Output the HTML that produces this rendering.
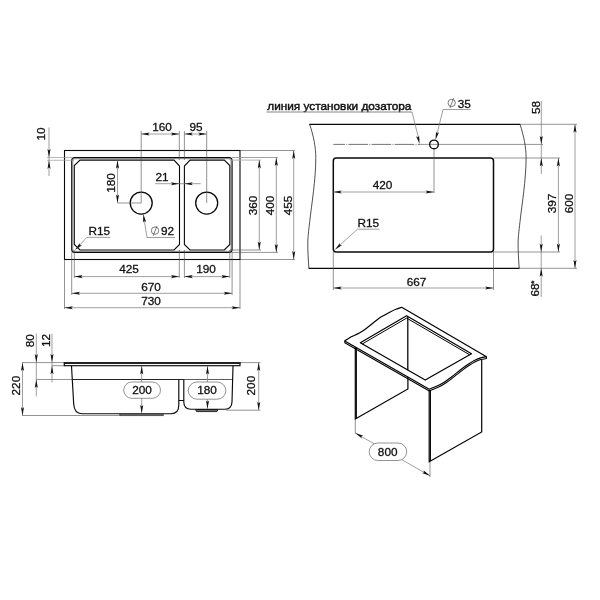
<!DOCTYPE html>
<html><head><meta charset="utf-8"><title>Sink drawing</title>
<style>
html,body{margin:0;padding:0;background:#fff;}
body{width:600px;height:600px;overflow:hidden;}
svg{display:block;}
text{font-family:"Liberation Sans",sans-serif;fill:#111;stroke:#111;stroke-width:0.3px;}
svg{will-change:transform;opacity:0.999;}
</style></head><body>
<svg width="600" height="600" viewBox="0 0 600 600">
<rect width="600" height="600" fill="#fff"/>
<g id="tl">
<rect x="64.5" y="150.5" width="175.5" height="109" fill="none" stroke="#0a0a0a" stroke-width="1.1"/>
<rect x="72.8" y="158.7" width="158.2" height="92.6" rx="2.5" fill="none" stroke="#aaa" stroke-width="1.1"/>
<rect x="71.7" y="157.6" width="160.4" height="94.8" rx="3" fill="none" stroke="#0a0a0a" stroke-width="1.1"/>
<path d="M80,160.1 H174 L179.5,166 V244.5 L174,250 H80 L74.3,244.5 V165.6 Z" fill="none" stroke="#0a0a0a" stroke-width="1.1" stroke-linejoin="miter"/>
<path d="M190,160.1 H224.3 L229.8,165.6 V244.5 L224.3,250 H190 L184.4,244.5 V166 Z" fill="none" stroke="#0a0a0a" stroke-width="1.1"/>
<circle cx="141.2" cy="203.1" r="11" fill="none" stroke="#0a0a0a" stroke-width="1.3"/>
<circle cx="206.7" cy="203.1" r="11" fill="none" stroke="#0a0a0a" stroke-width="1.3"/>
<line x1="141.2" y1="131" x2="141.2" y2="203" stroke="#4a4a4a" stroke-width="0.6" />
<line x1="179.3" y1="131" x2="179.3" y2="160" stroke="#4a4a4a" stroke-width="0.6" />
<line x1="184.4" y1="131" x2="184.4" y2="160" stroke="#4a4a4a" stroke-width="0.6" />
<line x1="206.7" y1="131" x2="206.7" y2="203" stroke="#4a4a4a" stroke-width="0.6" />
<line x1="141.2" y1="134" x2="179.3" y2="134" stroke="#777" stroke-width="0.7" />
<polygon points="141.20,134.00 149.60,132.45 147.92,134.00 149.60,135.55" fill="#111"/>
<polygon points="179.30,134.00 170.90,135.55 172.58,134.00 170.90,132.45" fill="#111"/>
<text x="162" y="131" font-size="11.8" text-anchor="middle" >160</text>
<line x1="184.4" y1="134" x2="206.7" y2="134" stroke="#777" stroke-width="0.7" />
<polygon points="184.40,134.00 192.80,132.45 191.12,134.00 192.80,135.55" fill="#111"/>
<polygon points="206.70,134.00 198.30,135.55 199.98,134.00 198.30,132.45" fill="#111"/>
<text x="196" y="131" font-size="11.8" text-anchor="middle" >95</text>
<line x1="155.3" y1="183.7" x2="200.7" y2="183.7" stroke="#777" stroke-width="0.7" />
<polygon points="179.30,183.70 170.90,185.25 172.58,183.70 170.90,182.15" fill="#111"/>
<polygon points="184.40,183.70 192.80,182.15 191.12,183.70 192.80,185.25" fill="#111"/>
<text x="162" y="180.7" font-size="11.8" text-anchor="middle" >21</text>
<line x1="117.5" y1="203" x2="141.2" y2="203" stroke="#4a4a4a" stroke-width="0.6" />
<line x1="117.5" y1="160.3" x2="117.5" y2="203" stroke="#777" stroke-width="0.7" />
<polygon points="117.50,160.30 119.05,168.70 117.50,167.02 115.95,168.70" fill="#111"/>
<polygon points="117.50,203.00 115.95,194.60 117.50,196.28 119.05,194.60" fill="#111"/>
<text x="115.2" y="183" font-size="11.8" text-anchor="middle" transform="rotate(-90 115.2 183)" >180</text>
<line x1="47" y1="157.5" x2="72" y2="157.5" stroke="#999" stroke-width="0.7" />
<line x1="47" y1="160.3" x2="74" y2="160.3" stroke="#999" stroke-width="0.7" />
<line x1="49" y1="127.5" x2="49" y2="176" stroke="#777" stroke-width="0.7" />
<polygon points="49.00,157.30 47.45,148.90 49.00,150.58 50.55,148.90" fill="#111"/>
<polygon points="49.00,160.50 50.55,168.90 49.00,167.22 47.45,168.90" fill="#111"/>
<text x="45.2" y="134" font-size="11.8" text-anchor="middle" transform="rotate(-90 45.2 134)" >10</text>
<text x="88.5" y="235" font-size="11.8" text-anchor="start" >R15</text>
<line x1="86.8" y1="237.4" x2="110.3" y2="237.4" stroke="#777" stroke-width="0.7" />
<line x1="86.8" y1="237.4" x2="76" y2="249" stroke="#777" stroke-width="0.7" />
<polygon points="75.00,250.00 79.84,242.96 79.75,245.25 82.04,245.16" fill="#111"/>
<text x="161" y="235" font-size="11.8" text-anchor="start" >92</text>
<circle cx="155" cy="230.6" r="3.7" fill="none" stroke="#444" stroke-width="0.7"/>
<line x1="153.2" y1="235.8" x2="157" y2="225.8" stroke="#444" stroke-width="0.7" />
<line x1="147" y1="237.5" x2="175" y2="237.5" stroke="#777" stroke-width="0.7" />
<line x1="147" y1="237.5" x2="144.2" y2="220" stroke="#777" stroke-width="0.7" />
<polygon points="143.30,214.00 146.14,222.05 144.35,220.64 143.08,222.54" fill="#111"/>
<line x1="240" y1="150.5" x2="295" y2="150.5" stroke="#4a4a4a" stroke-width="0.6" />
<line x1="232" y1="157.5" x2="278" y2="157.5" stroke="#999" stroke-width="0.9" />
<line x1="230" y1="160.1" x2="261" y2="160.1" stroke="#aaa" stroke-width="0.9" />
<line x1="230" y1="250" x2="261" y2="250" stroke="#4a4a4a" stroke-width="0.6" />
<line x1="232" y1="252.4" x2="278" y2="252.4" stroke="#4a4a4a" stroke-width="0.6" />
<line x1="240" y1="259.5" x2="295" y2="259.5" stroke="#4a4a4a" stroke-width="0.6" />
<line x1="259.3" y1="160.1" x2="259.3" y2="250" stroke="#777" stroke-width="0.7" />
<polygon points="259.30,160.10 260.85,168.50 259.30,166.82 257.75,168.50" fill="#111"/>
<polygon points="259.30,250.00 257.75,241.60 259.30,243.28 260.85,241.60" fill="#111"/>
<text x="257" y="205.5" font-size="11.8" text-anchor="middle" transform="rotate(-90 257 205.5)" >360</text>
<line x1="276.3" y1="157.6" x2="276.3" y2="252.4" stroke="#777" stroke-width="0.7" />
<polygon points="276.30,157.60 277.85,166.00 276.30,164.32 274.75,166.00" fill="#111"/>
<polygon points="276.30,252.40 274.75,244.00 276.30,245.68 277.85,244.00" fill="#111"/>
<text x="274" y="205.5" font-size="11.8" text-anchor="middle" transform="rotate(-90 274 205.5)" >400</text>
<line x1="293.7" y1="150.5" x2="293.7" y2="259.5" stroke="#777" stroke-width="0.7" />
<polygon points="293.70,150.50 295.25,158.90 293.70,157.22 292.15,158.90" fill="#111"/>
<polygon points="293.70,259.50 292.15,251.10 293.70,252.78 295.25,251.10" fill="#111"/>
<text x="291.5" y="205.5" font-size="11.8" text-anchor="middle" transform="rotate(-90 291.5 205.5)" >455</text>
<line x1="74.3" y1="250" x2="74.3" y2="278" stroke="#4a4a4a" stroke-width="0.6" />
<line x1="179.3" y1="250" x2="179.3" y2="278" stroke="#4a4a4a" stroke-width="0.6" />
<line x1="184.4" y1="250" x2="184.4" y2="278" stroke="#4a4a4a" stroke-width="0.6" />
<line x1="229.8" y1="250" x2="229.8" y2="278" stroke="#4a4a4a" stroke-width="0.6" />
<line x1="71.7" y1="252.4" x2="71.7" y2="295" stroke="#4a4a4a" stroke-width="0.6" />
<line x1="232.1" y1="252.4" x2="232.1" y2="295" stroke="#4a4a4a" stroke-width="0.6" />
<line x1="64.5" y1="259.5" x2="64.5" y2="309" stroke="#4a4a4a" stroke-width="0.6" />
<line x1="240" y1="259.5" x2="240" y2="309" stroke="#4a4a4a" stroke-width="0.6" />
<line x1="74.3" y1="276.6" x2="179.3" y2="276.6" stroke="#777" stroke-width="0.7" />
<polygon points="74.30,276.60 82.70,275.05 81.02,276.60 82.70,278.15" fill="#111"/>
<polygon points="179.30,276.60 170.90,278.15 172.58,276.60 170.90,275.05" fill="#111"/>
<text x="129" y="273.3" font-size="11.8" text-anchor="middle" >425</text>
<line x1="184.4" y1="276.6" x2="229.8" y2="276.6" stroke="#777" stroke-width="0.7" />
<polygon points="184.40,276.60 192.80,275.05 191.12,276.60 192.80,278.15" fill="#111"/>
<polygon points="229.80,276.60 221.40,278.15 223.08,276.60 221.40,275.05" fill="#111"/>
<text x="206" y="273.3" font-size="11.8" text-anchor="middle" >190</text>
<line x1="71.7" y1="293.3" x2="232.1" y2="293.3" stroke="#777" stroke-width="0.7" />
<polygon points="71.70,293.30 80.10,291.75 78.42,293.30 80.10,294.85" fill="#111"/>
<polygon points="232.10,293.30 223.70,294.85 225.38,293.30 223.70,291.75" fill="#111"/>
<text x="151" y="290.5" font-size="11.8" text-anchor="middle" >670</text>
<line x1="64.5" y1="307.7" x2="240" y2="307.7" stroke="#777" stroke-width="0.7" />
<polygon points="64.50,307.70 72.90,306.15 71.22,307.70 72.90,309.25" fill="#111"/>
<polygon points="240.00,307.70 231.60,309.25 233.28,307.70 231.60,306.15" fill="#111"/>
<text x="151" y="305" font-size="11.8" text-anchor="middle" >730</text>
</g>
<g id="tr">
<path d="M309.7,124.3 C313.5,136 315.8,147 315.8,157.7 C315.8,180 311.5,205 309.7,221.7 C308.5,232 307.8,238 307.8,243 C307.8,252 308.3,260 308.9,268.3" fill="none" stroke="#222" stroke-width="0.8"/>
<path d="M520.0,124.3 C523.8,136 526.1,147 526.1,157.7 C526.1,180 521.8,205 520.0,221.7 C518.8,232 518.1,238 518.1,243 C518.1,252 518.6,260 519.2,268.3" fill="none" stroke="#222" stroke-width="0.8"/>
<line x1="309.4" y1="124.4" x2="520.2" y2="124.4" stroke="#0a0a0a" stroke-width="1.2" />
<line x1="308.6" y1="268.3" x2="519.5" y2="268.3" stroke="#0a0a0a" stroke-width="1.2" />
<rect x="333.3" y="158" width="160.2" height="94" rx="3" fill="none" stroke="#0a0a0a" stroke-width="1.5"/>
<line x1="333.4" y1="144.4" x2="420" y2="144.4" stroke="#444" stroke-width="0.75" stroke-dasharray="19.6 1.3 0.9 1.3" stroke-dashoffset="8"/>
<line x1="420" y1="144.4" x2="543" y2="144.4" stroke="#4a4a4a" stroke-width="0.6" />
<circle cx="434" cy="144.4" r="4.3" fill="#fff" stroke="#0a0a0a" stroke-width="1.4"/>
<line x1="429.8" y1="144.4" x2="438.2" y2="144.4" stroke="#4a4a4a" stroke-width="0.6" />
<text x="267.3" y="110" font-size="11.8" text-anchor="start" style="stroke-width:0.45px">линия установки дозатора</text>
<line x1="266.5" y1="112" x2="412" y2="112" stroke="#777" stroke-width="0.9" />
<line x1="412" y1="112" x2="419" y2="140" stroke="#777" stroke-width="0.7" />
<polygon points="419.60,144.00 416.06,136.22 417.97,137.48 419.07,135.47" fill="#111"/>
<text x="457.8" y="107.5" font-size="11.8" text-anchor="start" >35</text>
<circle cx="451.7" cy="102.9" r="3.7" fill="none" stroke="#444" stroke-width="0.7"/>
<line x1="449.9" y1="108" x2="453.6" y2="98.2" stroke="#444" stroke-width="0.7" />
<line x1="443" y1="109.5" x2="470.5" y2="109.5" stroke="#777" stroke-width="0.7" />
<line x1="443" y1="109.5" x2="437" y2="134" stroke="#777" stroke-width="0.7" />
<polygon points="435.50,140.00 436.03,131.47 437.13,133.48 439.04,132.22" fill="#111"/>
<line x1="434" y1="148.5" x2="434" y2="193" stroke="#4a4a4a" stroke-width="0.6" />
<line x1="333.3" y1="192" x2="434" y2="192" stroke="#777" stroke-width="0.7" />
<polygon points="333.30,192.00 341.70,190.45 340.02,192.00 341.70,193.55" fill="#111"/>
<polygon points="434.00,192.00 425.60,193.55 427.28,192.00 425.60,190.45" fill="#111"/>
<text x="382.5" y="188.7" font-size="11.8" text-anchor="middle" >420</text>
<text x="357.5" y="226.7" font-size="11.8" text-anchor="start" >R15</text>
<line x1="357.5" y1="229.2" x2="379.5" y2="229.2" stroke="#777" stroke-width="0.7" />
<line x1="357.5" y1="229.2" x2="340" y2="245" stroke="#777" stroke-width="0.7" />
<polygon points="334.80,249.70 340.01,242.93 339.79,245.20 342.08,245.23" fill="#111"/>
<line x1="333.3" y1="252" x2="333.3" y2="290" stroke="#4a4a4a" stroke-width="0.6" />
<line x1="493.5" y1="252" x2="493.5" y2="290" stroke="#4a4a4a" stroke-width="0.6" />
<line x1="333.3" y1="288" x2="493.5" y2="288" stroke="#777" stroke-width="0.7" />
<polygon points="333.30,288.00 341.70,286.45 340.02,288.00 341.70,289.55" fill="#111"/>
<polygon points="493.50,288.00 485.10,289.55 486.78,288.00 485.10,286.45" fill="#111"/>
<text x="416.5" y="285.5" font-size="11.8" text-anchor="middle" >667</text>
<line x1="520" y1="124.3" x2="577" y2="124.3" stroke="#4a4a4a" stroke-width="0.6" />
<line x1="493.5" y1="158" x2="560" y2="158" stroke="#4a4a4a" stroke-width="0.6" />
<line x1="493.5" y1="252" x2="560" y2="252" stroke="#4a4a4a" stroke-width="0.6" />
<line x1="519.6" y1="268.3" x2="577" y2="268.3" stroke="#4a4a4a" stroke-width="0.6" />
<line x1="541.3" y1="101" x2="541.3" y2="174" stroke="#777" stroke-width="0.7" />
<polygon points="541.30,144.30 539.75,135.90 541.30,137.58 542.85,135.90" fill="#111"/>
<polygon points="541.30,158.00 542.85,166.40 541.30,164.72 539.75,166.40" fill="#111"/>
<text x="539.5" y="107.5" font-size="11.8" text-anchor="middle" transform="rotate(-90 539.5 107.5)" >58</text>
<line x1="558.4" y1="158" x2="558.4" y2="252" stroke="#777" stroke-width="0.7" />
<polygon points="558.40,158.00 559.95,166.40 558.40,164.72 556.85,166.40" fill="#111"/>
<polygon points="558.40,252.00 556.85,243.60 558.40,245.28 559.95,243.60" fill="#111"/>
<text x="556" y="203.5" font-size="11.8" text-anchor="middle" transform="rotate(-90 556 203.5)" >397</text>
<line x1="575" y1="124.3" x2="575" y2="268.3" stroke="#777" stroke-width="0.7" />
<polygon points="575.00,124.30 576.55,132.70 575.00,131.02 573.45,132.70" fill="#111"/>
<polygon points="575.00,268.30 573.45,259.90 575.00,261.58 576.55,259.90" fill="#111"/>
<text x="572.5" y="203.5" font-size="11.8" text-anchor="middle" transform="rotate(-90 572.5 203.5)" >600</text>
<line x1="541.2" y1="235.5" x2="541.2" y2="297" stroke="#777" stroke-width="0.7" />
<polygon points="541.20,252.00 539.65,243.60 541.20,245.28 542.75,243.60" fill="#111"/>
<polygon points="541.20,268.30 542.75,276.70 541.20,275.02 539.65,276.70" fill="#111"/>
<text x="538.5" y="288.5" font-size="11.8" text-anchor="middle" transform="rotate(-90 538.5 288.5)" >68<tspan font-size="9" dy="-1.5" dx="-0.5">*</tspan></text>
</g>
<g id="sv">
<line x1="22" y1="362.6" x2="64" y2="362.6" stroke="#4a4a4a" stroke-width="0.6" />
<line x1="22" y1="415.5" x2="119.3" y2="415.5" stroke="#4a4a4a" stroke-width="0.6" />
<line x1="36.3" y1="379.5" x2="72" y2="379.5" stroke="#4a4a4a" stroke-width="0.6" />
<line x1="52" y1="365.7" x2="64.3" y2="365.7" stroke="#4a4a4a" stroke-width="0.6" />
<line x1="240" y1="362.6" x2="260.5" y2="362.6" stroke="#4a4a4a" stroke-width="0.6" />
<line x1="226" y1="410.2" x2="260.5" y2="410.2" stroke="#4a4a4a" stroke-width="0.6" />
<rect x="64.3" y="363" width="175.7" height="2.7" fill="#fff" stroke="#0a0a0a" stroke-width="1.15"/>
<line x1="63.8" y1="362.9" x2="240.5" y2="362.9" stroke="#0a0a0a" stroke-width="1.5" />
<path d="M71.5,366 L73.7,404 Q74.3,413.7 82,413.7 H171 Q178.8,413.7 178.8,405 V379.5" fill="none" stroke="#0a0a0a" stroke-width="1.15"/>
<line x1="72.4" y1="379.5" x2="178.8" y2="379.5" stroke="#0a0a0a" stroke-width="0.9" />
<line x1="183.8" y1="379.5" x2="232.6" y2="379.5" stroke="#333" stroke-width="0.8" />
<path d="M183.8,379.5 V402 Q183.8,409.2 191,409.2 H225 Q231.6,409.2 232,402 L233,366" fill="none" stroke="#0a0a0a" stroke-width="1.15"/>
<line x1="178.8" y1="379.5" x2="183.8" y2="379.5" stroke="#0a0a0a" stroke-width="0.9" />
<line x1="178.8" y1="400.5" x2="183.8" y2="400.5" stroke="#0a0a0a" stroke-width="1" />
<rect x="119.8" y="414.2" width="43.4" height="1.5" fill="#aaa" stroke="#222" stroke-width="0.7"/>
<path d="M195.5,409.5 L196.5,411.6 H217 L218,409.5 Z" fill="#666" stroke="#0a0a0a" stroke-width="0.8"/>
<line x1="22.5" y1="362.6" x2="22.5" y2="415.5" stroke="#777" stroke-width="0.7" />
<polygon points="22.50,362.60 24.05,371.00 22.50,369.32 20.95,371.00" fill="#111"/>
<polygon points="22.50,415.50 20.95,407.10 22.50,408.78 24.05,407.10" fill="#111"/>
<text x="20" y="385.6" font-size="11.8" text-anchor="middle" transform="rotate(-90 20 385.6)" >220</text>
<line x1="36.3" y1="333.7" x2="36.3" y2="396.3" stroke="#777" stroke-width="0.7" />
<polygon points="36.30,362.50 34.75,354.10 36.30,355.78 37.85,354.10" fill="#111"/>
<polygon points="36.30,379.50 37.85,387.90 36.30,386.22 34.75,387.90" fill="#111"/>
<text x="34" y="340.7" font-size="11.8" text-anchor="middle" transform="rotate(-90 34 340.7)" >80</text>
<line x1="52" y1="333.7" x2="52" y2="382.5" stroke="#777" stroke-width="0.7" />
<polygon points="52.00,362.30 50.45,353.90 52.00,355.58 53.55,353.90" fill="#111"/>
<polygon points="52.00,365.90 53.55,374.30 52.00,372.62 50.45,374.30" fill="#111"/>
<text x="50" y="340.5" font-size="11.8" text-anchor="middle" transform="rotate(-90 50 340.5)" >12</text>
<line x1="141.7" y1="366" x2="141.7" y2="413.3" stroke="#777" stroke-width="0.7" />
<polygon points="141.70,366.00 143.25,374.40 141.70,372.72 140.15,374.40" fill="#111"/>
<polygon points="141.70,413.30 140.15,404.90 141.70,406.58 143.25,404.90" fill="#111"/>
<rect x="123.7" y="382" width="36.8" height="16.3" rx="8.15" fill="#fff" stroke="#666" stroke-width="0.7"/>
<text x="142" y="394.2" font-size="11.8" text-anchor="middle" >200</text>
<line x1="207.5" y1="366" x2="207.5" y2="408.8" stroke="#777" stroke-width="0.7" />
<polygon points="207.50,366.00 209.05,374.40 207.50,372.72 205.95,374.40" fill="#111"/>
<polygon points="207.50,408.80 205.95,400.40 207.50,402.08 209.05,400.40" fill="#111"/>
<rect x="188.3" y="382" width="37.5" height="17.2" rx="8.6" fill="#fff" stroke="#666" stroke-width="0.7"/>
<text x="207" y="394.2" font-size="11.8" text-anchor="middle" >180</text>
<line x1="258.7" y1="362.6" x2="258.7" y2="410.2" stroke="#777" stroke-width="0.7" />
<polygon points="258.70,362.60 260.25,371.00 258.70,369.32 257.15,371.00" fill="#111"/>
<polygon points="258.70,410.20 257.15,401.80 258.70,403.48 260.25,401.80" fill="#111"/>
<text x="255.5" y="385.6" font-size="11.8" text-anchor="middle" transform="rotate(-90 255.5 385.6)" >200</text>
</g>
<g id="iso">
<path d="M355.3,347 V418.9 L407.9,389 V316.5" fill="none" stroke="#000" stroke-width="1.2" stroke-linejoin="miter"/>
<line x1="356.4" y1="348" x2="356.4" y2="418" stroke="#000" stroke-width="1.0" />
<path d="M429.2,390 V461.8 L481.7,432 V360" fill="none" stroke="#000" stroke-width="1.2"/>
<line x1="430.4" y1="390" x2="430.4" y2="461" stroke="#000" stroke-width="1.1" />
<path d="M344.8,340.9 C345.55,340.40 347.57,338.88 349.30,337.90 C351.03,336.92 353.25,335.97 355.20,335.00 C357.15,334.03 359.07,333.27 361.00,332.10 C362.93,330.93 364.85,329.47 366.80,328.00 C368.75,326.53 370.75,324.85 372.70,323.30 C374.65,321.75 376.57,320.05 378.50,318.70 C380.43,317.35 382.35,316.32 384.30,315.20 C386.25,314.08 388.25,312.98 390.20,312.00 C392.15,311.02 394.08,310.08 396.00,309.30 C397.92,308.52 400.75,307.63 401.70,307.30 L486.5,356.8 C485.53,356.97 482.65,357.23 480.70,357.80 C478.75,358.37 476.75,359.22 474.80,360.20 C472.85,361.18 470.93,362.43 469.00,363.70 C467.07,364.97 465.15,366.35 463.20,367.80 C461.25,369.25 459.25,370.85 457.30,372.40 C455.35,373.95 453.43,375.63 451.50,377.10 C449.57,378.57 447.65,379.93 445.70,381.20 C443.75,382.47 441.75,383.70 439.80,384.70 C437.85,385.70 435.75,386.45 434.00,387.20 C432.25,387.95 430.08,388.87 429.30,389.20 Z" fill="#fff" stroke="#000" stroke-width="1.2" stroke-linejoin="round"/>
<path d="M344.8,340.9 V342.7 L429.3,391.0 C430.08,390.67 432.25,389.75 434.00,389.00 C435.75,388.25 437.85,387.50 439.80,386.50 C441.75,385.50 443.75,384.27 445.70,383.00 C447.65,381.73 449.57,380.37 451.50,378.90 C453.43,377.43 455.35,375.75 457.30,374.20 C459.25,372.65 461.25,371.05 463.20,369.60 C465.15,368.15 467.07,366.77 469.00,365.50 C470.93,364.23 472.85,362.98 474.80,362.00 C476.75,361.02 478.75,360.17 480.70,359.60 C482.65,359.03 485.53,358.77 486.50,358.60 V356.8" fill="none" stroke="#000" stroke-width="1.05" stroke-linejoin="round"/>
<path d="M360.3,342.8 L406.6,315.7 L471.5,353.7 L425.2,380.1 Z" fill="#fff" stroke="#000" stroke-width="1.2" stroke-linejoin="round"/>
<path d="M362,344.1 L406.7,318.1 L469.7,354.8" fill="none" stroke="#000" stroke-width="1.0"/>
<line x1="407.8" y1="317" x2="407.8" y2="370.3" stroke="#000" stroke-width="1.25" />
<line x1="355.3" y1="418.7" x2="355.3" y2="433.5" stroke="#4a4a4a" stroke-width="0.6" />
<line x1="430" y1="462" x2="430" y2="477" stroke="#4a4a4a" stroke-width="0.6" />
<line x1="355.3" y1="433" x2="430" y2="475.8" stroke="#777" stroke-width="0.7" />
<polygon points="355.30,433.00 363.36,435.83 361.13,436.34 361.82,438.52" fill="#111"/>
<polygon points="430.00,475.80 421.94,472.97 424.17,472.46 423.48,470.28" fill="#111"/>
<rect x="369.2" y="443" width="37.5" height="17.5" rx="8.75" fill="#fff" stroke="#666" stroke-width="0.7"/>
<text x="387.7" y="455.8" font-size="11.8" text-anchor="middle" >800</text>
</g>
</svg>
</body></html>
